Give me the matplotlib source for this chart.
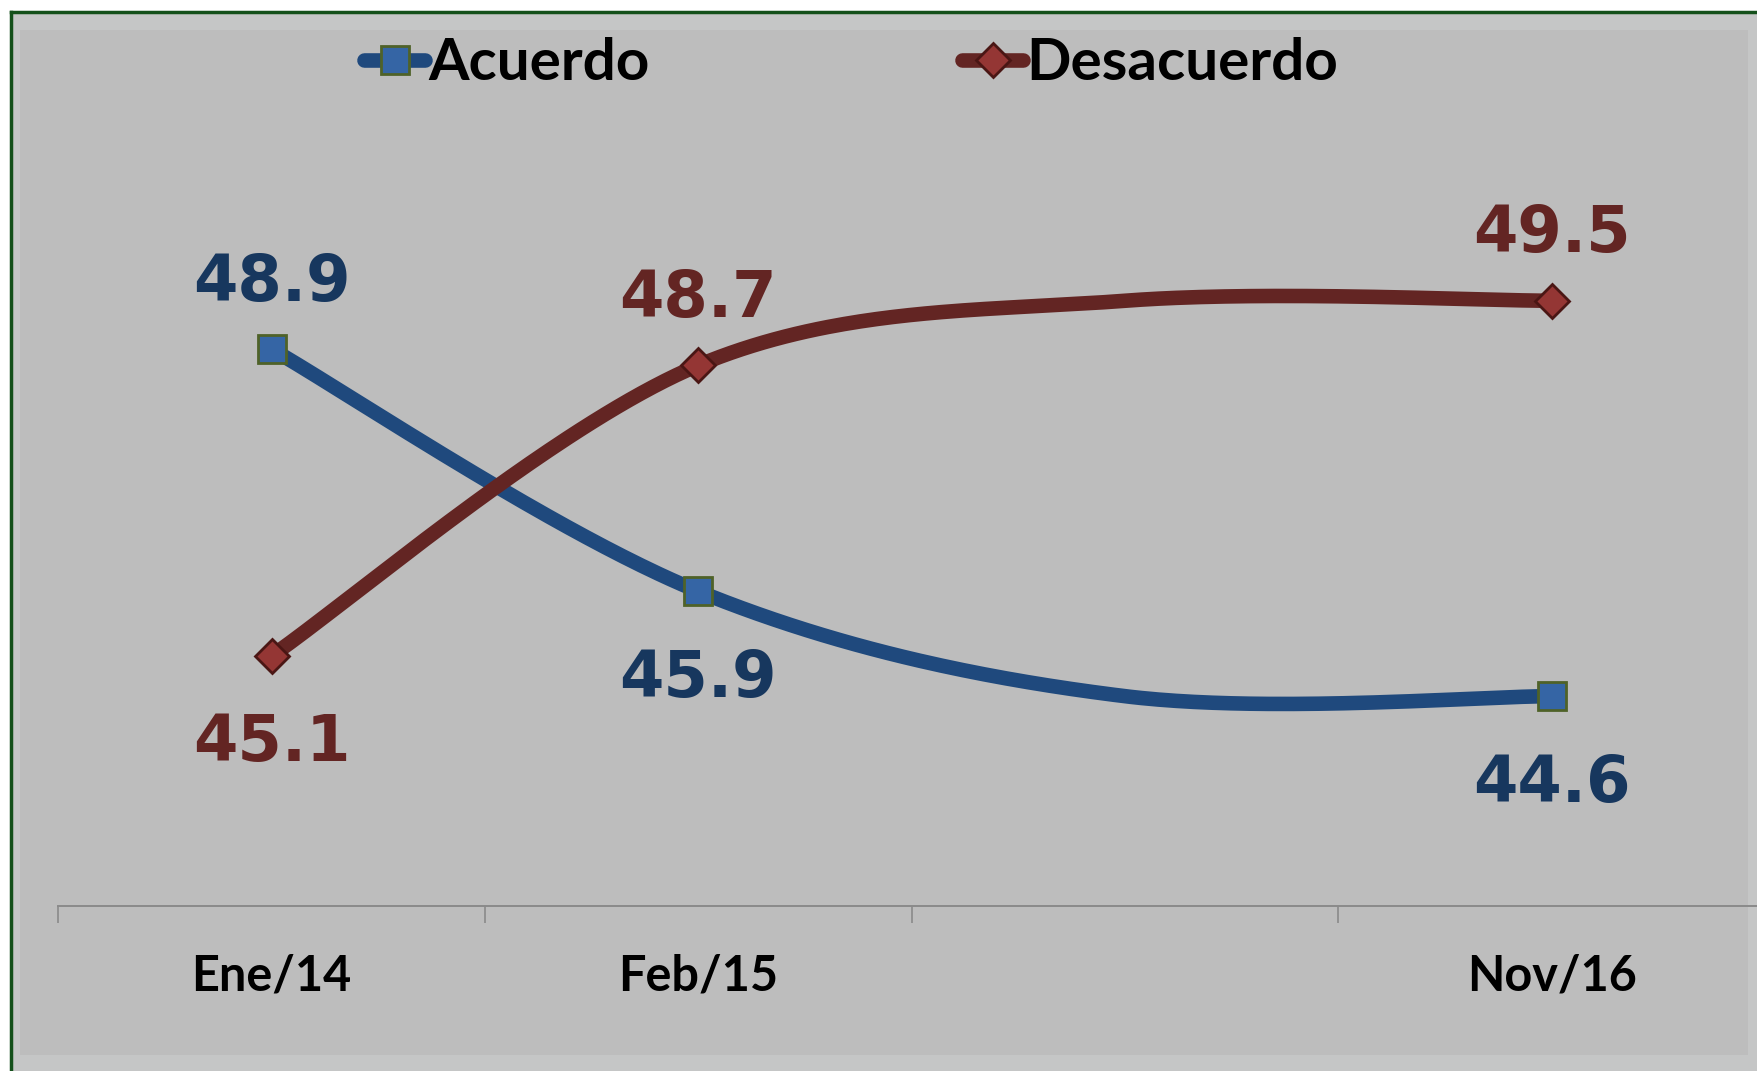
import numpy as np
import matplotlib.pyplot as plt
from matplotlib.lines import Line2D
from matplotlib.patches import Rectangle

# Data
periods = ['Ene/14', 'Feb/15', '', 'Nov/16']
acuerdo = [48.9, 45.9, 44.6, 44.6]
desacuerdo = [45.1, 48.7, 49.5, 49.5]
# the third category has no label, marker or data label in the original
shown = [True, True, False, True]

# where each series puts its data label (1 = above, -1 = below)
acuerdo_side = [1, -1, 0, -1]
desacuerdo_side = [-1, 1, 0, 1]

blue = '#1F497D'
blue_txt = '#17375E'
red = '#632523'
red_txt = '#632523'

W, H = 1758, 1071


def excel_smooth(x, y, n=80):
    # Bezier smoothing like Excel's "smoothed line" (Catmull-Rom, tension 1/6)
    pts = np.column_stack([x, y]).astype(float)
    P = np.vstack([pts[0], pts, pts[-1]])
    t = np.linspace(0, 1, n)[:, None]
    segs = []
    for i in range(1, len(P) - 2):
        p0, p1, p2, p3 = P[i - 1], P[i], P[i + 1], P[i + 2]
        c1 = p1 + (p2 - p0) / 6
        c2 = p2 - (p3 - p1) / 6
        segs.append((1 - t) ** 3 * p1 + 3 * (1 - t) ** 2 * t * c1
                    + 3 * (1 - t) * t ** 2 * c2 + t ** 3 * p2)
    return np.vstack(segs)


fig = plt.figure(figsize=(W / 100, H / 100), dpi=100, facecolor='white')

# chart background with the lighter bevel band and green frame
fig.add_artist(Rectangle((13 / W, 0), 1 - 13 / W, 1 - 13 / H, transform=fig.transFigure,
                         facecolor='#C5C6C6', edgecolor='none', zorder=0))
fig.add_artist(Rectangle((20 / W, 16 / H), (1748 - 20) / W, (1071 - 30 - 16) / H,
                         transform=fig.transFigure, facecolor='#BDBDBD',
                         edgecolor='none', zorder=0))
fig.add_artist(Line2D([11.5 / W, 11.5 / W], [0, 1 - 12 / H], transform=fig.transFigure,
                      color='#14501A', lw=2.5, zorder=1))
fig.add_artist(Line2D([11.5 / W, 1], [1 - 12 / H, 1 - 12 / H], transform=fig.transFigure,
                      color='#14501A', lw=2.5, zorder=1))

ax = fig.add_axes([58.3 / W, (H - 906) / H, 1706.8 / W, 807 / H])
ax.set_facecolor('none')
ax.set_xlim(-0.5, 3.5)
ax.set_ylim(42, 52)

x = np.arange(len(periods))
xs = x[np.array(shown)]

series = [
    ('Acuerdo', acuerdo, acuerdo_side, blue, blue_txt, 's', '#3565A5', '#4F6228'),
    ('Desacuerdo', desacuerdo, desacuerdo_side, red, red_txt, 'D', '#943634', '#4A1614'),
]

handles = []
for name, vals, sides, col, tcol, mk, mface, medge in series:
    curve = excel_smooth(x, vals)
    ax.plot(curve[:, 0], curve[:, 1], color=col, lw=10.5, solid_capstyle='round',
            zorder=3, clip_on=False)
    vals_arr = np.array(vals)
    ms = 20.5 if mk == 's' else 17.5
    ax.plot(xs, vals_arr[np.array(shown)], ls='none', marker=mk, ms=ms,
            mfc=mface, mec=medge, mew=2, zorder=4, clip_on=False)
    for xi, v, s, ok in zip(x, vals, sides, shown):
        if not ok:
            continue
        ax.annotate(f'{v:.1f}', (xi, v), xytext=(0, 35 if s > 0 else -76),
                    textcoords='offset points', ha='center', va='baseline',
                    fontsize=46, fontweight='bold', color=tcol,
                    family='DejaVu Sans', zorder=5)
    handles.append(Line2D([], [], color=col, lw=10.5, solid_capstyle='round',
                          marker=mk, ms=ms, mfc=mface, mec=medge, mew=2))

for sp in ['top', 'left', 'right']:
    ax.spines[sp].set_visible(False)
ax.spines['bottom'].set_color('#8A8A8A')
ax.spines['bottom'].set_linewidth(1.4)
ax.set_yticks([])
ax.set_xticks(np.arange(-0.5, len(periods)), labels=[])
ax.tick_params(axis='x', which='major', length=12, width=1.2, color='#8A8A8A',
               direction='out')
ax.set_xticks(x, labels=periods, minor=True)
ax.tick_params(axis='x', which='minor', length=0, pad=34)
for lab in ax.get_xticklabels(minor=True):
    lab.set_fontsize(35)
    lab.set_fontweight('bold')
    lab.set_family('Lato')

# legend, one entry each, placed along the top
leg_x = [364 / W, 962 / W]
for h, name, lx in zip(handles, ['Acuerdo', 'Desacuerdo'], leg_x):
    leg = fig.legend([h], [name], loc='center left', bbox_to_anchor=(lx, 1 - 64 / H),
                     frameon=False, borderpad=0, borderaxespad=0, handlelength=1.05,
                     handletextpad=0.05, prop={'family': 'Lato', 'weight': 'bold',
                                               'size': 42})

fig.savefig('out.png', dpi=100, facecolor=fig.get_facecolor())
